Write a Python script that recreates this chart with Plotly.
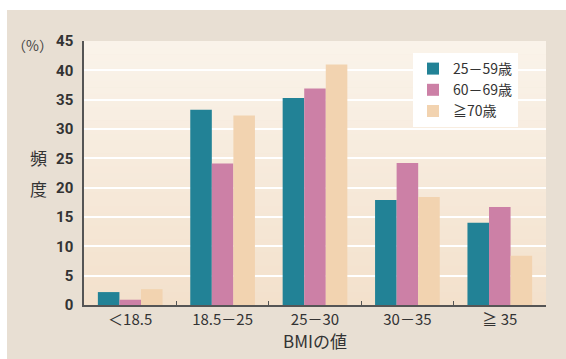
import plotly.graph_objects as go

categories = ["＜18.5", "18.5－25", "25－30", "30－35", "≧ 35"]
series_names = ["25－59歳", "60－69歳", "≧70歳"]
vals_25_59 = [2.2, 33.3, 35.3, 17.9, 14.0]
vals_60_69 = [0.9, 24.1, 36.9, 24.2, 16.7]
vals_70 = [2.7, 32.3, 41.0, 18.4, 8.4]
y_ticks = [0, 5, 10, 15, 20, 25, 30, 35, 40, 45]

colors = ["#228296", "#cc80a6", "#f2d3b0"]
FONT = "Noto Sans CJK JP"

W, H = 566, 359
ML, MR, MT, MB = 84, 20, 41, 54
PW, PH = W - ML - MR, H - MT - MB

def px_x(p):
    return (p - ML) / PW

def px_y(p):
    return 1 - (p - MT) / PH

fig = go.Figure()
for name, vals, c in zip(series_names, [vals_25_59, vals_60_69, vals_70], colors):
    fig.add_trace(go.Bar(x=categories, y=vals, name=name, marker=dict(color=c, line=dict(width=0))))

shapes = []
# outer frame
shapes.append(dict(type="rect", xref="paper", yref="paper", x0=px_x(7), x1=px_x(W + 5),
                   y0=px_y(H + 5), y1=px_y(10), fillcolor="#e8dfd3", line=dict(width=0), layer="below"))
# gradient plot background
top = (250, 243, 234)
bot = (243, 225, 204)
N = 40
for i in range(N):
    t = i / (N - 1)
    col = tuple(round(top[k] + (bot[k] - top[k]) * t) for k in range(3))
    y1 = 1 - i / N
    y0 = 1 - (i + 1) / N
    shapes.append(dict(type="rect", xref="paper", yref="paper", x0=0, x1=1, y0=y0 - 0.002, y1=y1,
                       fillcolor="rgb(%d,%d,%d)" % col, line=dict(width=0), layer="below"))

annotations = [
    dict(text="（%）", x=px_x(55), y=px_y(45), xref="paper", yref="paper", showarrow=False,
         font=dict(family=FONT, size=14, color="#444"), xanchor="right", yanchor="middle"),
    dict(text="頻", x=px_x(38), y=px_y(157), xref="paper", yref="paper", showarrow=False,
         font=dict(family=FONT, size=17, color="#333"), xanchor="center", yanchor="middle"),
    dict(text="度", x=px_x(38), y=px_y(188), xref="paper", yref="paper", showarrow=False,
         font=dict(family=FONT, size=17, color="#333"), xanchor="center", yanchor="middle"),
    dict(text="BMIの値", x=0.5, y=px_y(340), xref="paper", yref="paper", showarrow=False,
         font=dict(family=FONT, size=17, color="#333"), xanchor="center", yanchor="middle"),
]

fig.update_layout(
    width=W, height=H,
    margin=dict(l=ML, r=MR, t=MT, b=MB, pad=0),
    paper_bgcolor="white",
    plot_bgcolor="rgba(0,0,0,0)",
    barmode="group", bargap=0.3, bargroupgap=0,
    shapes=shapes,
    annotations=annotations,
    showlegend=True,
    legend=dict(x=px_x(413), y=px_y(53), xanchor="left", yanchor="top",
                bgcolor="white", borderwidth=0, font=dict(family=FONT, size=14, color="#333"),
                traceorder="normal", itemwidth=30, tracegroupgap=0),
    xaxis=dict(showline=True, linecolor="#555", linewidth=2, ticks="inside", ticklen=4,
               tickcolor="#555", tickson="boundaries", showgrid=False,
               tickfont=dict(family=FONT, size=15, color="#333")),
    yaxis=dict(range=[0, 45], tickvals=y_ticks, showline=True, linecolor="#555", linewidth=1.5,
               showgrid=True, gridcolor="white", gridwidth=2, zeroline=False, ticks="",
               ticklabelstandoff=6,
               tickfont=dict(family="Roboto", size=15, color="#333", weight="bold")),
)

fig.write_html("out.html", config={"displayModeBar": False},
               post_script="document.body.style.margin='0';document.body.style.overflow='hidden';")
